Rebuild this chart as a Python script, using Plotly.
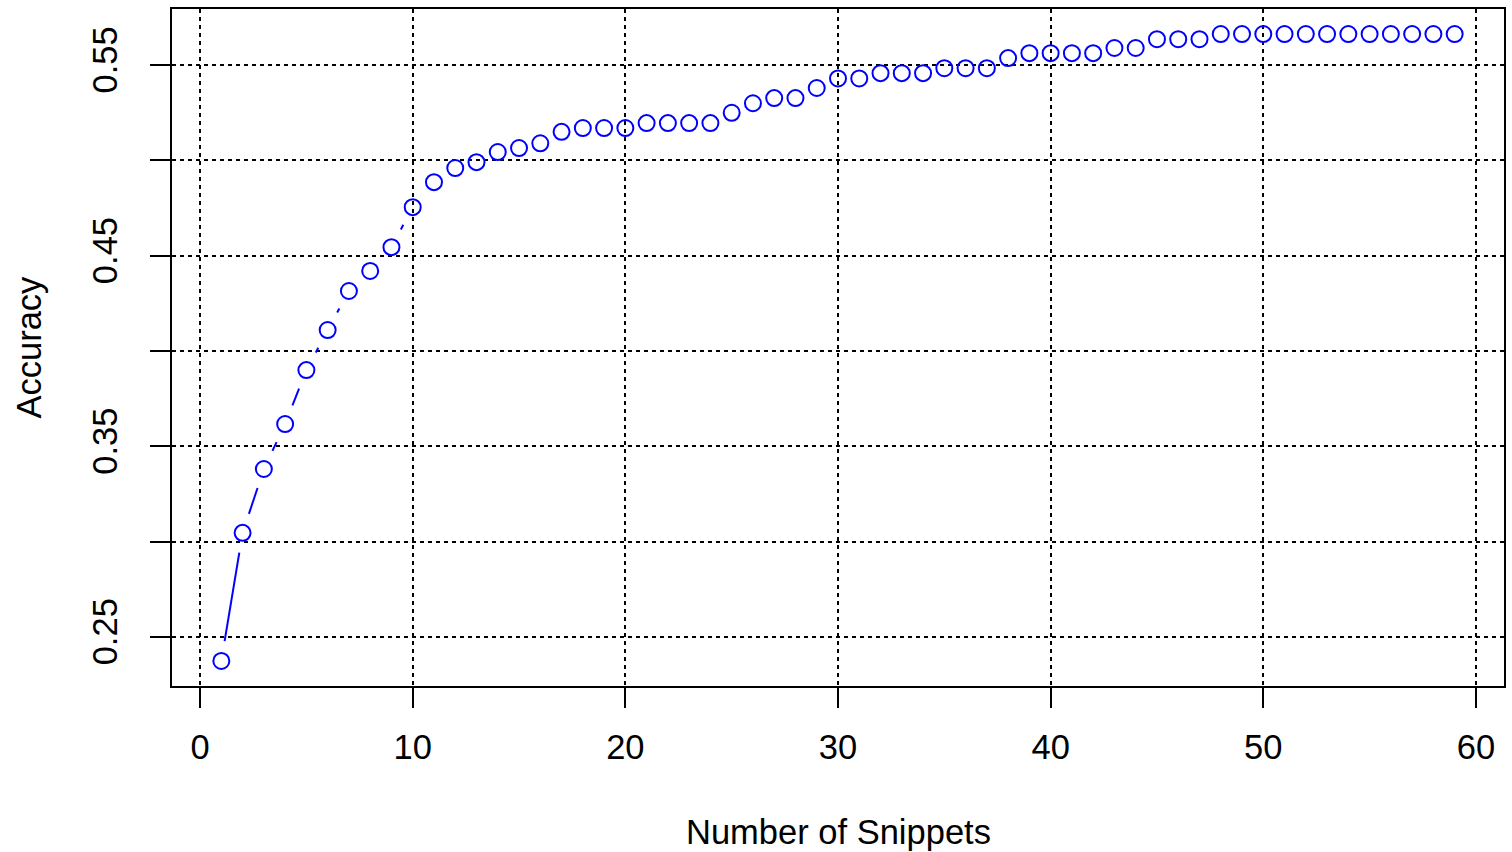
import math
import plotly.graph_objects as go

# ---- data ----
snippets = list(range(1, 60))
accuracy = [
    0.2374, 0.3046, 0.3381, 0.3617, 0.3900, 0.4110, 0.4315, 0.4420, 0.4545, 0.4755,
    0.4886, 0.4960, 0.4991, 0.5044, 0.5065, 0.5090, 0.5150, 0.5170, 0.5170, 0.5170,
    0.5196, 0.5196, 0.5196, 0.5196, 0.5250, 0.5300, 0.5327, 0.5327, 0.5380, 0.5430,
    0.5430, 0.5458, 0.5458, 0.5458, 0.5484, 0.5484, 0.5484, 0.5537, 0.5563, 0.5563,
    0.5563, 0.5563, 0.5590, 0.5590, 0.5636, 0.5636, 0.5636, 0.5663, 0.5663, 0.5663,
    0.5663, 0.5663, 0.5663, 0.5663, 0.5663, 0.5663, 0.5663, 0.5663, 0.5663,
]
x_ticks = [0, 10, 20, 30, 40, 50, 60]
y_ticks = [0.25, 0.30, 0.35, 0.40, 0.45, 0.50, 0.55]
y_tick_labels = ["0.25", "", "0.35", "", "0.45", "", "0.55"]
x_title = "Number of Snippets"
y_title = "Accuracy"

# ---- layout geometry ----
FIG_W, FIG_H = 1512, 852
M_L, M_R, M_T, M_B = 172, 6, 9, 166
PW, PH = FIG_W - M_L - M_R, FIG_H - M_T - M_B

# R-style 4% range extension
xmin, xmax = min(snippets), max(snippets)
ymin, ymax = min(accuracy), max(accuracy)
xpad = (xmax - xmin) * 0.04
ypad = (ymax - ymin) * 0.04
xr = [xmin - xpad, xmax + xpad]
yr = [ymin - ypad, ymax + ypad]

# ---- type="b" line segments with gaps around points ----
sx = PW / (xr[1] - xr[0])
sy = PH / (yr[1] - yr[0])
gap = 20.0
seg_x, seg_y = [], []
for i in range(len(snippets) - 1):
    px0, py0 = snippets[i] * sx, accuracy[i] * sy
    px1, py1 = snippets[i + 1] * sx, accuracy[i + 1] * sy
    dx, dy = px1 - px0, py1 - py0
    d = math.hypot(dx, dy)
    if d > 2 * gap:
        ux, uy = dx / d, dy / d
        seg_x += [(px0 + ux * gap) / sx, (px1 - ux * gap) / sx, None]
        seg_y += [(py0 + uy * gap) / sy, (py1 - uy * gap) / sy, None]

BLUE = "#0000FF"
FONT = "Liberation Sans, Arial, Helvetica, sans-serif"
FS = 34.5

fig = go.Figure()
fig.add_trace(go.Scatter(
    x=seg_x, y=seg_y, mode="lines",
    line=dict(color=BLUE, width=2), hoverinfo="skip", showlegend=False,
))
fig.add_trace(go.Scatter(
    x=snippets, y=accuracy, mode="markers",
    marker=dict(symbol="circle-open", size=16, color=BLUE, line=dict(width=2, color=BLUE)),
    showlegend=False,
))

axis_common = dict(
    showline=True, linecolor="black", linewidth=2, mirror=True,
    ticks="outside", ticklen=20, tickwidth=2, tickcolor="black",
    showgrid=True, gridcolor="black", gridwidth=2, griddash="4px,4px",
    zeroline=False, tickfont=dict(family=FONT, size=FS, color="black"),
)

fig.update_layout(
    width=FIG_W, height=FIG_H,
    margin=dict(l=M_L, r=M_R, t=M_T, b=M_B, pad=0),
    paper_bgcolor="white", plot_bgcolor="white",
    font=dict(family=FONT, size=FS, color="black"),
    xaxis=dict(range=xr, tickvals=x_ticks, ticktext=[str(v) for v in x_ticks],
               ticklabelstandoff=10, **axis_common),
    yaxis=dict(range=yr, tickvals=y_ticks, ticktext=y_tick_labels,
               tickangle=-90, ticklabelstandoff=19, **axis_common),
    annotations=[
        dict(text=x_title, xref="paper", yref="paper", x=0.5, y=0,
             xanchor="center", yanchor="middle", yshift=-146, showarrow=False,
             font=dict(family=FONT, size=FS, color="black")),
        dict(text=y_title, xref="paper", yref="paper", x=0, y=0.5,
             xanchor="center", yanchor="middle", xshift=-144, textangle=-90,
             showarrow=False, font=dict(family=FONT, size=FS, color="black")),
    ],
)

fig.write_html(
    "out.html",
    config={"displayModeBar": False},
    post_script="document.body.style.margin='0';document.body.style.overflow='hidden';",
)
